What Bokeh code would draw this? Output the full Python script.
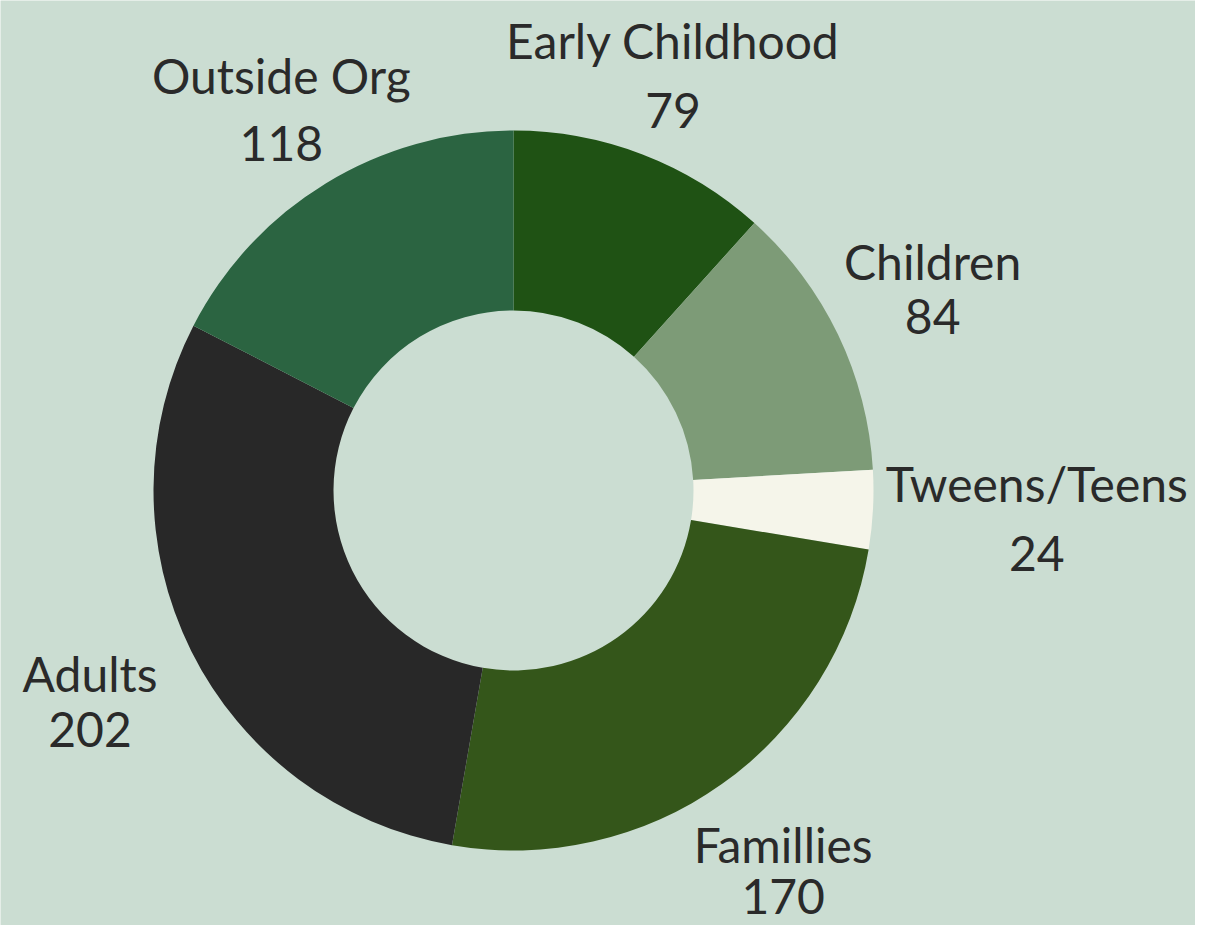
import math
from bokeh.plotting import figure
from bokeh.models import Range1d
from bokeh.core.properties import value
from bokeh.embed import file_html
from bokeh.resources import INLINE

categories = ["Early Childhood", "Children", "Tweens/Teens", "Famillies", "Adults", "Outside Org"]
counts = [79, 84, 24, 170, 202, 118]
colors = ["#1f5214", "#7d9b77", "#f5f5ea", "#34561a", "#282828", "#2b6441"]

# layout styling (pixel units)
label_dist = [445, 465, 524, 466, 473, 446]
line_gap = [70, 55, 70, 52, 56, 68]

W, H = 1195, 925
cx, cy = 513, H - 490
R_out, R_in = 360, 180
BG = "#cbddd2"
TXT = "#2a2a2a"
FONT = "Lato"

p = figure(width=W, height=H, x_range=Range1d(0, W), y_range=Range1d(0, H),
           output_backend="svg", toolbar_location=None, min_border=0,
           background_fill_color=BG, border_fill_color=BG, outline_line_color=None)
p.axis.visible = False
p.grid.visible = False

total = sum(counts)
cum = 0
starts, ends, mids = [], [], []
for c in counts:
    a0 = math.pi / 2 - 2 * math.pi * cum / total
    a1 = math.pi / 2 - 2 * math.pi * (cum + c) / total
    starts.append(a0)
    ends.append(a1)
    mids.append((a0 + a1) / 2)
    cum += c

p.annular_wedge(x=[cx] * len(counts), y=[cy] * len(counts), inner_radius=R_in, outer_radius=R_out,
                start_angle=starts, end_angle=ends, direction="clock",
                fill_color=colors, line_color=None)

nx, ny, vx, vy = [], [], [], []
for m, d, g in zip(mids, label_dist, line_gap):
    x = cx + d * math.cos(m)
    y = cy + d * math.sin(m)
    nx.append(x); ny.append(y + g / 2)
    vx.append(x); vy.append(y - g / 2)

p.text(x=nx, y=ny, text=categories, text_align="center", text_baseline="middle",
       text_font=value(FONT), text_font_size="48px", text_color=TXT)
p.text(x=vx, y=vy, text=[str(c) for c in counts], text_align="center", text_baseline="middle",
       text_font=value(FONT), text_font_size="48px", text_color=TXT)

open("out.html", "w").write(file_html(p, INLINE))
